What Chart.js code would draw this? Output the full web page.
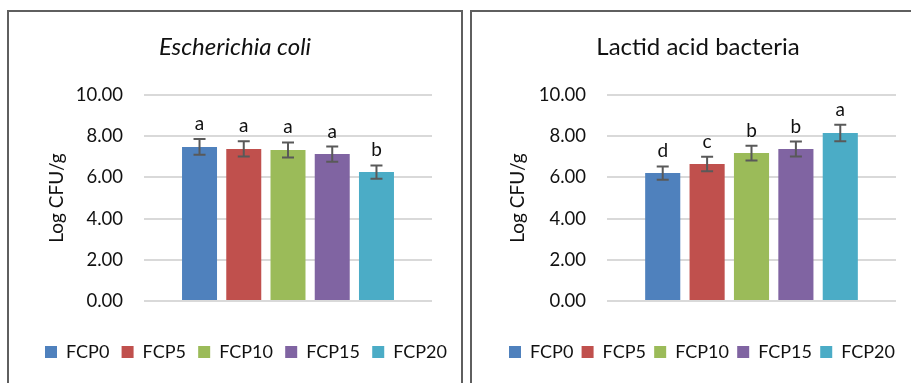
<!DOCTYPE html>
<html>
<head>
<meta charset="utf-8">
<script src="https://cdn.jsdelivr.net/npm/chart.js@4.4.0/dist/chart.umd.min.js"></script>
<style>
  html, body { margin: 0; padding: 0; width: 911px; height: 383px; overflow: hidden; background: #fff; }
  .panel { position: absolute; top: 10px; width: 456px; height: 400px; box-sizing: border-box; border: 2px solid #5f5f5f; }
  canvas { position: absolute; top: 12px; }
</style>
</head>
<body>
<canvas id="ecoli" width="490" height="371" style="left:0px"></canvas>
<canvas id="lab" width="490" height="371" style="left:463px"></canvas>
<div class="panel" style="left:7px"></div>
<div class="panel" style="left:470px"></div>
<script>
const series = ["FCP0", "FCP5", "FCP10", "FCP15", "FCP20"];
const colors = ["#4F81BD", "#C0504D", "#9BBB59", "#8064A2", "#4BACC6"];

const ecoliMeans = [7.48, 7.38, 7.33, 7.13, 6.26];
const ecoliErrors = [0.38, 0.37, 0.37, 0.37, 0.32];
const ecoliLetters = ["a", "a", "a", "a", "b"];

const labMeans = [6.21, 6.65, 7.18, 7.38, 8.16];
const labErrors = [0.32, 0.35, 0.36, 0.36, 0.40];
const labLetters = ["d", "c", "b", "b", "a"];

Chart.defaults.font.family = "Lato";
Chart.defaults.color = "#111";

const LEGEND_FONT = 18;
// pick the legend gap so the whole row is as wide as in the reference
const mctx = document.createElement("canvas").getContext("2d");
mctx.font = LEGEND_FONT + "px Lato";
const textSum = series.reduce((s, t) => s + mctx.measureText(t).width, 0);
const legendPad = (span) => (span - textSum - series.length * (12 + LEGEND_FONT / 2)) / 4;

// error bars, significance letters and the panel title
const errorBars = {
  id: "errorBars",
  afterDatasetsDraw(chart, args, opts) {
    const ctx = chart.ctx;
    const y = chart.scales.y;
    ctx.save();
    chart.data.datasets.forEach((ds, i) => {
      const bar = chart.getDatasetMeta(i).data[0];
      const mean = ds.data[0];
      const top = y.getPixelForValue(mean + opts.errors[i]);
      const bottom = y.getPixelForValue(mean - opts.errors[i]);
      ctx.strokeStyle = "#595959";
      ctx.lineWidth = 2;
      ctx.beginPath();
      ctx.moveTo(bar.x, top); ctx.lineTo(bar.x, bottom);
      ctx.moveTo(bar.x - 6, top); ctx.lineTo(bar.x + 6, top);
      ctx.moveTo(bar.x - 6, bottom); ctx.lineTo(bar.x + 6, bottom);
      ctx.stroke();
      ctx.fillStyle = "#111";
      ctx.font = "19px Lato";
      ctx.textAlign = "center";
      ctx.textBaseline = "alphabetic";
      ctx.fillText(opts.letters[i], bar.x, top - 9);
    });
    ctx.font = opts.titleFont;
    ctx.textAlign = "center";
    ctx.fillStyle = "#111";
    ctx.fillText(opts.title, 235, 43);
    ctx.restore();
  }
};

function makeChart(id, title, titleFont, means, errors, letters, lay) {
  const pad = legendPad(lay.span);
  return new Chart(document.getElementById(id), {
    type: "bar",
    data: {
      labels: [""],
      datasets: series.map((name, i) => ({
        label: name,
        data: [means[i]],
        backgroundColor: colors[i],
        borderColor: colors[i],
        borderWidth: 0,
        categoryPercentage: 0.768,
        barPercentage: 0.791,
      })),
    },
    options: {
      responsive: false,
      animation: false,
      events: [],
      layout: { padding: { left: 10, right: lay.right, top: 83, bottom: 12 } },
      plugins: {
        tooltip: { enabled: false },
        legend: {
          position: "bottom",
          labels: { boxWidth: 12, boxHeight: 12, padding: pad, font: { size: LEGEND_FONT } },
        },
        errorBars: { errors, letters, title, titleFont },
      },
      scales: {
        x: {
          grid: { display: false },
          border: { display: false },
          ticks: { display: false },
          // legend height grows with its padding, keep the plot bottom fixed
          afterFit: (s) => { s.height = 42 - pad; },
        },
        y: {
          min: 0,
          max: 10,
          ticks: { stepSize: 2, padding: 21, font: { size: 18.5 }, callback: (v) => v.toFixed(2) },
          grid: { color: "#d9d9d9", lineWidth: 2, drawTicks: false },
          border: { display: false },
          title: { display: true, text: "Log CFU/g", font: { size: 19 }, padding: { top: lay.titlePad, bottom: 0 } },
          afterFit: (s) => { s.width = 134; },
        },
        // empty right-hand spacer so the plot ends where the reference does
        spacer: {
          type: "linear",
          position: "right",
          grid: { display: false },
          border: { display: false },
          ticks: { display: false },
          afterFit: (s) => { s.width = lay.spacer; },
        },
      },
    },
    plugins: [errorBars],
  });
}

makeChart("ecoli", "Escherichia coli", "italic 24px Lato", ecoliMeans, ecoliErrors, ecoliLetters,
  { right: 8, spacer: 50, span: 402, titlePad: 35.6 });
makeChart("lab", "Lactid acid bacteria", "24px Lato", labMeans, labErrors, labLetters,
  { right: 22, spacer: 35, span: 386, titlePad: 33.6 });
</script>
</body>
</html>
